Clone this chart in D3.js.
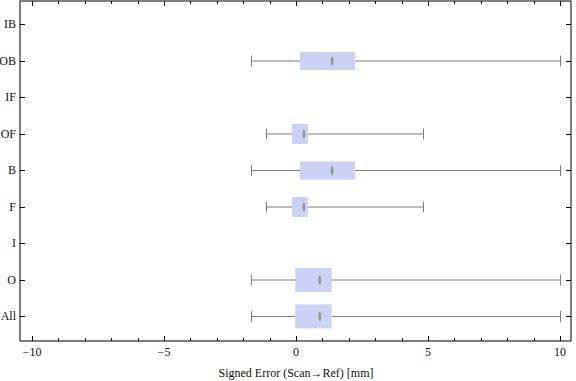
<!DOCTYPE html>
<html>
<head>
<meta charset="utf-8">
<script src="https://cdn.jsdelivr.net/npm/d3@7"></script>
<style>
  body { margin: 0; background: #fff; }
  svg text { font-family: "Liberation Serif", "DejaVu Serif", serif; fill: #111; }
</style>
</head>
<body>
<div id="chart"></div>
<script>
// Data (mm)
const categories = ["IB", "OB", "IF", "OF", "B", "F", "I", "O", "All"];
const whiskerLow = [null, -1.7, null, -1.15, -1.7, -1.15, null, -1.7, -1.7];
const q1 = [null, 0.15, null, -0.15, 0.15, -0.15, null, -0.03, -0.03];
const median = [null, 1.37, null, 0.3, 1.37, 0.3, null, 0.9, 0.9];
const q3 = [null, 2.24, null, 0.45, 2.24, 0.45, null, 1.35, 1.35];
const whiskerHigh = [null, 10, null, 4.8, 10, 4.8, null, 10, 10];
const xTicks = [-10, -5, 0, 5, 10];
const xLabel = "Signed Error (Scan\u2192Ref) [mm]";

// box thickness per category (style only)
const boxThickness = { OB: 18, B: 18, OF: 20, F: 20, O: 24, All: 24 };

const width = 576, height = 381;
const frame = { left: 20, right: 571, top: 1, bottom: 341 };

const svg = d3.select("#chart").append("svg")
  .attr("width", width)
  .attr("height", height);

const x = d3.scaleLinear().domain([-10, 10]).range([32, 560]);
const y = d3.scalePoint().domain(categories).range([24, 316]);

const rows = categories.map((c, i) => ({
  cat: c, lo: whiskerLow[i], q1: q1[i], med: median[i], q3: q3[i], hi: whiskerHigh[i]
})).filter(d => d.lo !== null);

// whiskers
const g = svg.append("g");
g.selectAll(".whisker").data(rows).enter().append("line")
  .attr("x1", d => x(d.lo)).attr("x2", d => x(d.hi))
  .attr("y1", d => y(d.cat) + 0.5).attr("y2", d => y(d.cat) + 0.5)
  .attr("stroke", "#7d7d7d").attr("stroke-width", 1);

["lo", "hi"].forEach(k => {
  g.selectAll(".cap-" + k).data(rows).enter().append("line")
    .attr("x1", d => Math.round(x(d[k])) + 0.5).attr("x2", d => Math.round(x(d[k])) + 0.5)
    .attr("y1", d => y(d.cat) - 5).attr("y2", d => y(d.cat) + 6)
    .attr("stroke", "#7d7d7d").attr("stroke-width", 1);
});

// boxes
g.selectAll(".box").data(rows).enter().append("rect")
  .attr("x", d => x(d.q1))
  .attr("width", d => x(d.q3) - x(d.q1))
  .attr("y", d => y(d.cat) + 0.5 - boxThickness[d.cat] / 2)
  .attr("height", d => boxThickness[d.cat])
  .attr("fill", "#cbd3f5");

// median marks
g.selectAll(".med").data(rows).enter().append("ellipse")
  .attr("cx", d => x(d.med))
  .attr("cy", d => y(d.cat) + 0.5)
  .attr("rx", 1.3).attr("ry", 4.5)
  .attr("fill", "#939393");

// frame
svg.append("rect")
  .attr("x", frame.left).attr("y", frame.top)
  .attr("width", frame.right - frame.left).attr("height", frame.bottom - frame.top)
  .attr("fill", "none").attr("stroke", "#000").attr("stroke-width", 1);

// x ticks (major every 5, minor every 1), bottom and top
const minor = d3.range(-10, 10.01, 1).filter(v => !xTicks.includes(v));
const axisG = svg.append("g");
function tickLines(vals, len) {
  vals.forEach(v => {
    const px = Math.round(x(v)) + 0.5;
    axisG.append("line").attr("x1", px).attr("x2", px)
      .attr("y1", frame.bottom).attr("y2", frame.bottom - len)
      .attr("stroke", "#000");
    axisG.append("line").attr("x1", px).attr("x2", px)
      .attr("y1", frame.top).attr("y2", frame.top + len)
      .attr("stroke", "#000");
  });
}
tickLines(xTicks, 5);
tickLines(minor, 3);

axisG.selectAll(".xl").data(xTicks).enter().append("text")
  .attr("x", d => x(d)).attr("y", 356)
  .attr("text-anchor", "middle")
  .attr("font-size", 12)
  .text(d => d < 0 ? "\u2212" + Math.abs(d) : d);

// y ticks, left and right
categories.forEach(c => {
  const py = Math.round(y(c)) + 0.5;
  axisG.append("line").attr("x1", frame.left).attr("x2", frame.left + 5)
    .attr("y1", py).attr("y2", py).attr("stroke", "#000");
  axisG.append("line").attr("x1", frame.right).attr("x2", frame.right - 5)
    .attr("y1", py).attr("y2", py).attr("stroke", "#000");
});
axisG.selectAll(".yl").data(categories).enter().append("text")
  .attr("x", 16).attr("y", d => y(d) + 4)
  .attr("text-anchor", "end")
  .attr("font-size", 12)
  .text(d => d);

svg.append("text")
  .attr("x", 296).attr("y", 377)
  .attr("text-anchor", "middle")
  .attr("font-size", 12)
  .text(xLabel);
</script>
</body>
</html>
